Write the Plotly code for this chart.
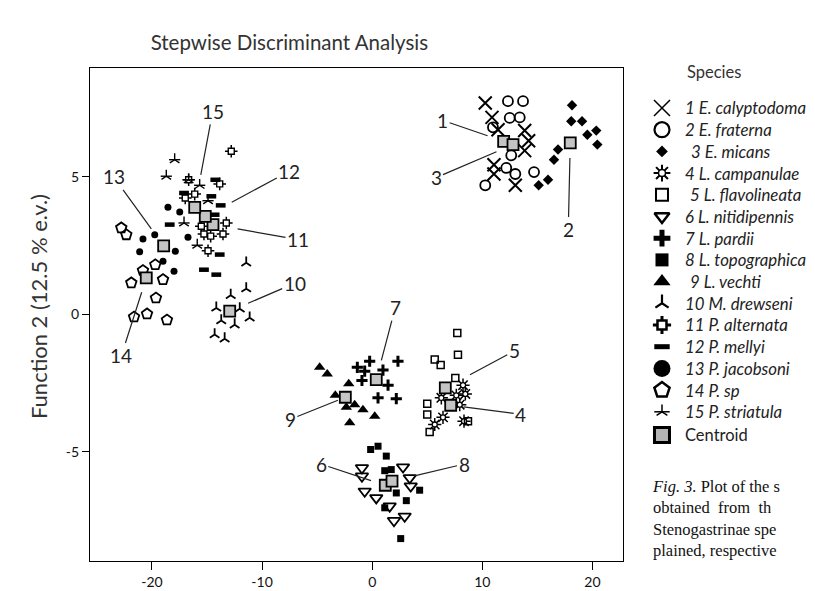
import plotly.graph_objects as go

# ---------------- data ----------------
species_names = ["1 E. calyptodoma", "2 E. fraterna", "3 E. micans", "4 L. campanulae",
                 "5 L. flavolineata", "6 L. nitidipennis", "7 L. pardii", "8 L. topographica",
                 "9 L. vechti", "10 M. drewseni", "11 P. alternata", "12 P. mellyi",
                 "13 P. jacobsoni", "14 P. sp", "15 P. striatula"]

calyptodoma_x = [10.27, 10.88, 11.43, 13.85, 14.21, 13.85, 11.06, 11.06, 13.00]
calyptodoma_y = [7.68, 7.16, 6.71, 6.68, 6.31, 5.95, 5.44, 5.10, 4.69]
fraterna_x = [12.33, 13.70, 12.49, 13.40, 10.97, 12.63, 12.18, 13.00, 14.70, 10.27]
fraterna_y = [7.75, 7.75, 7.14, 7.16, 6.80, 5.78, 5.32, 5.10, 5.17, 4.69]
micans_x = [18.15, 18.08, 19.06, 19.54, 20.35, 20.45, 16.88, 16.51, 15.97, 15.12]
micans_y = [7.60, 7.02, 7.02, 6.53, 6.68, 6.17, 5.99, 5.62, 4.89, 4.69]
campanulae_x = [8.25, 8.46, 7.64, 6.28, 6.43, 5.68, 8.34, 7.95]
campanulae_y = [-2.58, -2.90, -2.95, -3.04, -3.75, -4.01, -3.89, -3.29]
flavolineata_x = [7.73, 7.79, 5.68, 6.22, 7.55, 5.00, 5.00, 5.22, 8.70]
flavolineata_y = [-0.68, -1.47, -1.65, -1.85, -2.32, -3.26, -3.65, -4.28, -3.89]
nitidipennis_x = [-0.93, -0.93, -0.68, 0.37, 2.80, 3.41, 3.50, 1.59, 1.98, 2.95]
nitidipennis_y = [-5.59, -5.89, -6.44, -6.68, -5.56, -5.95, -6.25, -6.98, -7.51, -7.35]
pardii_x = [-1.35, -0.68, -0.23, -0.93, 2.34, 1.44, 2.19, 0.98, 0.53]
pardii_y = [-1.93, -2.07, -1.71, -2.41, -1.71, -2.58, -3.07, -2.03, -3.04]
topographica_x = [-0.14, 0.53, 1.28, 1.14, 1.73, 2.19, 4.31, 3.10, 1.14, 2.59]
topographica_y = [-4.92, -4.80, -5.16, -5.69, -5.65, -6.50, -6.40, -6.78, -7.04, -8.16]
vechti_x = [-4.77, -4.08, -2.13, -3.35, -1.59, -2.35, -0.84, 0.23, -2.04]
vechti_y = [-1.93, -2.17, -2.53, -2.95, -3.29, -3.38, -3.47, -3.71, -3.95]
drewseni_x = [-11.44, -11.44, -12.85, -14.16, -12.03, -11.13, -13.71, -12.49, -14.31, -13.40]
drewseni_y = [1.87, 0.93, 0.69, 0.23, 0.20, -0.13, -0.23, -0.38, -0.74, -0.89]
alternata_x = [-12.80, -13.85, -16.12, -16.98, -15.52, -15.28, -14.67, -13.55, -13.25, -14.91, -16.67]
alternata_y = [5.93, 4.74, 4.37, 4.23, 3.20, 2.92, 2.84, 2.92, 3.32, 2.31, 4.89]
mellyi_x = [-14.25, -17.09, -14.61, -13.76, -14.31, -18.39, -13.85, -15.28, -14.16]
mellyi_y = [4.89, 4.41, 4.29, 3.96, 3.62, 3.26, 2.17, 1.62, 1.44]
jacobsoni_x = [-18.55, -17.48, -16.73, -19.75, -20.82, -21.12, -17.88, -19.00, -18.00]
jacobsoni_y = [3.89, 3.72, 2.80, 2.89, 2.74, 2.27, 2.29, 1.93, 1.56]
psp_x = [-22.79, -22.33, -20.82, -19.70, -19.00, -21.88, -19.64, -20.45, -21.63, -18.64]
psp_y = [3.14, 2.89, 1.59, 1.80, 1.26, 1.14, 0.59, 0.01, -0.10, -0.21]
striatula_x = [-17.94, -18.70, -16.67, -15.67, -14.91, -17.09, -15.89]
striatula_y = [5.62, 5.02, 4.89, 4.69, 4.13, 3.32, 2.51]

centroid_labels = ["1", "2", "3", "4", "5", "6", "7", "8", "9", "10", "11", "12", "13", "14", "15"]
centroid_x = [11.94, 17.99, 12.79, 7.13, 6.64, 1.19, 0.37, 1.80, -2.44, -12.94, -14.46, -15.16, -18.94, -20.52, -16.12]
centroid_y = [6.29, 6.23, 6.17, -3.31, -2.68, -6.22, -2.38, -6.07, -3.02, 0.11, 3.26, 3.56, 2.49, 1.32, 3.89]

x_ticks = [-20, -10, 0, 10, 20]
y_ticks = [-5, 0, 5]

caption_lines = ["<i>Fig. 3.</i> Plot of the s", "obtained  from  th", "Stenogastrinae spe", "plained, respective"]

# ---------------- styles ----------------
series_x = [calyptodoma_x, fraterna_x, micans_x, campanulae_x, flavolineata_x, nitidipennis_x,
            pardii_x, topographica_x, vechti_x, drewseni_x, alternata_x, mellyi_x,
            jacobsoni_x, psp_x, striatula_x]
series_y = [calyptodoma_y, fraterna_y, micans_y, campanulae_y, flavolineata_y, nitidipennis_y,
            pardii_y, topographica_y, vechti_y, drewseni_y, alternata_y, mellyi_y,
            jacobsoni_y, psp_y, striatula_y]

# (symbol, size, line width, fill colour)
plot_layers = [
    [("x-thin-open", 13, 2, "black")],
    [("circle-open", 10, 1.8, "black")],
    [("diamond", 8, 0, "black")],
    [("asterisk-open", 11, 1.5, "black"), ("circle", 5, 1.3, "white")],
    [("square-open", 7, 1.5, "black")],
    [("triangle-down-open", 11, 1.8, "black")],
    [("cross-thin-open", 8, 3, "black")],
    [("square", 7, 0, "black")],
    [("triangle-up", 10, 0, "black")],
    [("y-up-open", 8, 1.8, "black")],
    [("cross-thin-open", 9, 1.5, "black"), ("square", 6, 1.4, "white")],
    [("line-ew-open", 7, 4.5, "black")],
    [("circle", 7, 0, "black")],
    [("pentagon-open", 11, 1.8, "black")],
    [("y-up-open", 8, 1.4, "black"), ("line-ew-open", 8, 1.4, "black")],
]
legend_layers = [
    [("x-thin-open", 16, 1.5, "black")],
    [("circle-open", 15, 2.2, "black")],
    [("diamond", 9, 0, "black")],
    [("asterisk-open", 14, 2, "black"), ("circle", 7, 1.5, "white")],
    [("square-open", 12, 2, "black")],
    [("triangle-down-open", 13, 2.5, "black")],
    [("cross-thin-open", 12, 5, "black")],
    [("square", 13, 0, "black")],
    [("triangle-up", 15, 0, "black")],
    [("y-up-open", 11, 2.2, "black")],
    [("cross-thin-open", 13, 3, "black"), ("square", 9, 2.5, "white")],
    [("line-ew-open", 11, 5, "black")],
    [("circle", 17, 0, "black")],
    [("pentagon-open", 16, 2.5, "black")],
    [("y-up-open", 9, 1.5, "black"), ("line-ew-open", 11, 1.5, "black")],
]
legend_indent = [0, 0, 6, 0, 5, 0, 0, 0, 5, 0, 0, 0, 0, 0, 0]

# label offsets (ax, ay in px) and standoff for centroid numbers
label_ax = [-61, -2, -77, 70, 69, -64, 19, 72, -55, 65, 85, 84, -50, -25, 18]
label_ay = [-21, 87, 33, 9, -37, -21, -72, -17, 22, -28, 15, -45, -69, 78, -96]
label_standoff = [17, 15, 18, 13, 28, 15, 20, 23, 8, 20, 25, 30, 21, 15, 33]

FONT = "Lato, Carlito, Calibri, sans-serif"
fig = go.Figure()


def add_marks(xs, ys, layers, xa, ya):
    for sym, size, lw, col in layers:
        fig.add_trace(go.Scatter(
            x=xs, y=ys, mode="markers", xaxis=xa, yaxis=ya, showlegend=False, hoverinfo="skip",
            marker=dict(symbol=sym, size=size, color=col, line=dict(color="black", width=lw))))


for i in range(len(species_names)):
    add_marks(series_x[i], series_y[i], plot_layers[i], "x", "y")

centroid_plot = [("square", 11, 1.8, "#c4c4c4")]
add_marks(centroid_x, centroid_y, centroid_plot, "x", "y")

annotations = []
for lab, cx, cy, ax, ay, so in zip(centroid_labels, centroid_x, centroid_y, label_ax, label_ay, label_standoff):
    annotations.append(dict(x=cx, y=cy, xref="x", yref="y", text=lab, showarrow=True,
                            arrowhead=0, arrowwidth=1.2, arrowcolor="#222", ax=ax, ay=ay,
                            standoff=so, font=dict(family=FONT, size=19, color="#222")))

# ---------------- manual legend (own axes) ----------------
LEG_MX = 38
LEG_TX = 59
for i, name in enumerate(species_names):
    add_marks([LEG_MX], [i], legend_layers[i], "x2", "y2")
    annotations.append(dict(x=LEG_TX + legend_indent[i], y=i, xref="x2", yref="y2", text="<i>" + name + "</i>",
                            showarrow=False, xanchor="left", yanchor="middle",
                            font=dict(family=FONT, size=16.8, color="#222")))
add_marks([LEG_MX], [15.07], [("square", 15, 3, "#b4b4b4")], "x2", "y2")
annotations.append(dict(x=LEG_TX, y=15.07, xref="x2", yref="y2", text="Centroid", showarrow=False,
                        xanchor="left", yanchor="middle", font=dict(family=FONT, size=16.5, color="#222")))
annotations.append(dict(x=90, y=-1.65, xref="x2", yref="y2", text="Species", showarrow=False,
                        xanchor="center", yanchor="middle", font=dict(family=FONT, size=16.5, color="#333")))

# caption (as much as the source shows)
annotations.append(dict(x=26, y=16.9, xref="x2", yref="y2", text="<br>".join(caption_lines), showarrow=False,
                        xanchor="left", yanchor="top", align="left",
                        font=dict(family="Liberation Serif, Times New Roman, serif", size=16.5, color="#111")))

# axis title
annotations.append(dict(x=-0.071, y=0.461, xref="paper", yref="paper", text="Function 2 (12.5 % e.v.)",
                        textangle=-90, showarrow=False, xanchor="center", yanchor="middle",
                        font=dict(family=FONT, size=22, color="#333")))

fig.update_layout(
    width=815, height=591,
    margin=dict(l=82, r=0, t=0, b=38),
    paper_bgcolor="white", plot_bgcolor="white",
    showlegend=False,
    title=dict(text="Stepwise Discriminant Analysis", x=0.272, xref="paper", xanchor="center",
               y=1 - 35 / 591, yref="container", yanchor="middle",
               font=dict(family=FONT, size=20.5, color="#333")),
    xaxis=dict(domain=[0, 0.72715], range=[-25.63, 22.78], anchor="y", showgrid=False, zeroline=False,
               showline=True, linecolor="black", linewidth=1.2, mirror=True,
               tickmode="array", tickvals=x_ticks, ticktext=[str(v) for v in x_ticks],
               ticks="outside", ticklen=8, tickwidth=1.3, tickcolor="black",
               tickfont=dict(family=FONT, size=14, color="#111")),
    yaxis=dict(domain=[0, 0.8915], range=[-8.975, 8.956], anchor="x", showgrid=False, zeroline=False,
               showline=True, linecolor="black", linewidth=1.2, mirror=True,
               tickmode="array", tickvals=y_ticks, ticktext=[str(v) for v in y_ticks],
               ticks="outside", ticklen=7, tickwidth=1.3, tickcolor="black",
               tickfont=dict(family=FONT, size=14, color="#111")),
    xaxis2=dict(domain=[0.7285, 1.0], range=[0, 199], anchor="y2", visible=False, fixedrange=True),
    yaxis2=dict(domain=[0, 1.0], range=[20.876, -4.608], anchor="x2", visible=False, fixedrange=True),
    annotations=annotations,
)

fig.write_html("out.html")
